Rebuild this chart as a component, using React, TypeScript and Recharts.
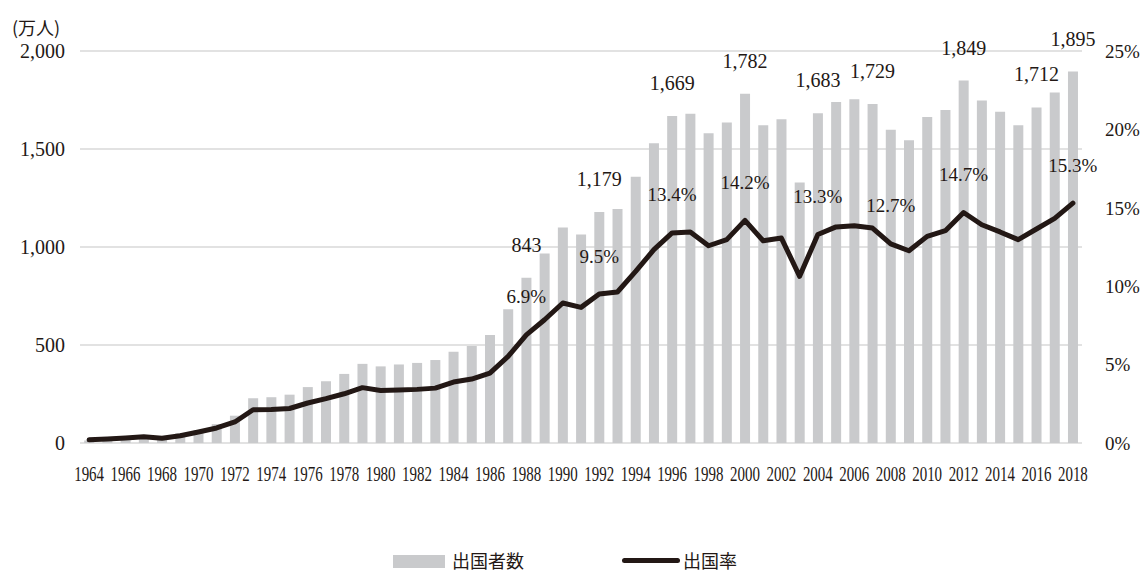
import React from 'react';
import { ComposedChart, Bar, Line, XAxis, YAxis, CartesianGrid, LabelList, Legend } from 'recharts';

const years = ['1964','1965','1966','1967','1968','1969','1970','1971','1972','1973','1974','1975','1976','1977','1978','1979','1980','1981','1982','1983','1984','1985','1986','1987','1988','1989','1990','1991','1992','1993','1994','1995','1996','1997','1998','1999','2000','2001','2002','2003','2004','2005','2006','2007','2008','2009','2010','2011','2012','2013','2014','2015','2016','2017','2018'];

// 出国者数 (万人)
const outbound = [12.8,15.9,21.2,26.8,34.4,49.3,66.3,96.1,139.2,228.9,233.6,246.6,285.3,315.1,352.5,403.8,390.9,400.7,408.6,423.3,465.9,494.8,551.6,682.9,843,966.3,1099.7,1063.4,1179,1193.4,1357.9,1529.8,1669,1680.3,1580.6,1635.8,1782,1621.6,1652.3,1329.6,1683,1740.4,1753.5,1729,1598.7,1544.6,1663.7,1699.4,1849,1747.3,1690.3,1621.4,1712,1788.9,1895];

// 出国率 (%)
const rate = [0.2,0.26,0.32,0.4,0.3,0.46,0.7,0.96,1.34,2.12,2.13,2.2,2.55,2.83,3.14,3.53,3.35,3.38,3.42,3.5,3.89,4.08,4.46,5.52,6.9,7.86,8.93,8.65,9.5,9.63,10.94,12.33,13.4,13.46,12.58,12.97,14.2,12.9,13.07,10.63,13.3,13.78,13.86,13.71,12.7,12.26,13.18,13.54,14.7,13.92,13.46,12.97,13.65,14.33,15.3];

const barLabelYears = ['1988','1992','1996','2000','2004','2007','2012','2016','2018'];
const rateLabelYears = ['1988','1992','1996','2000','2004','2008','2012','2018'];

const leftTicks = [0, 500, 1000, 1500, 2000];
const rightTicks = [0, 5, 10, 15, 20, 25];

const seriesNames = { outbound: '出国者数', rate: '出国率' };

const data = years.map((y, i) => ({ year: y, outbound: outbound[i], rate: rate[i] }));

const TEXT = '#231815';
const BAR = '#c9cacc';
const FONT = '"Liberation Serif", "Noto Sans CJK JP", serif';
const JFONT = '"Noto Sans CJK JP", "Liberation Serif", serif';

const XTick = (props: any) => {
  const { x, y, payload } = props;
  return (
    <g transform={`translate(${x},${y + 30})`}>
      <text transform="scale(0.68,1)" textAnchor="middle" dominantBaseline="central" fontSize={22} fontFamily={FONT} fill={TEXT}>
        {payload.value}
      </text>
    </g>
  );
};

const BarLabel = (props: any) => {
  const { x, y, width, value, index } = props;
  if (!barLabelYears.includes(years[index])) return null;
  return (
    <text x={x + width / 2} y={y - 33} textAnchor="middle" dominantBaseline="central" fontSize={20} fontFamily={FONT} fill={TEXT}>
      {Number(value).toLocaleString('en-US')}
    </text>
  );
};

const RateLabel = (props: any) => {
  const { x, y, value, index } = props;
  if (!rateLabelYears.includes(years[index])) return null;
  return (
    <text x={x} y={y - 38} textAnchor="middle" dominantBaseline="central" fontSize={19} fontFamily={FONT} fill={TEXT}>
      {`${Number(value).toFixed(1)}%`}
    </text>
  );
};

const UnitLabel = (props: any) => {
  const { viewBox } = props;
  return (
    <text x={viewBox.x + 36} y={viewBox.y - 24} textAnchor="middle" dominantBaseline="central" fontSize={18} fontFamily={JFONT} fill={TEXT}>
      (万人)
    </text>
  );
};

const LegendContent = () => (
  <div style={{ position: 'relative', width: 1140, height: 572, pointerEvents: 'none' }}>
    <div style={{ position: 'absolute', left: 393, top: 555, width: 52, height: 13, background: BAR }} />
    <div style={{ position: 'absolute', left: 452, top: 549, fontSize: 18, fontFamily: JFONT, color: TEXT, lineHeight: '22px', whiteSpace: 'nowrap' }}>{seriesNames.outbound}</div>
    <div style={{ position: 'absolute', left: 622, top: 558, width: 58, height: 5, borderRadius: 3, background: TEXT }} />
    <div style={{ position: 'absolute', left: 683, top: 549, fontSize: 18, fontFamily: JFONT, color: TEXT, lineHeight: '22px', whiteSpace: 'nowrap' }}>{seriesNames.rate}</div>
  </div>
);

export default function App() {
  return (
    <div style={{ position: 'absolute', left: 0, top: 0, width: 1140, height: 572, background: '#fff' }}>
      <ComposedChart width={1140} height={572} data={data} margin={{ top: 51, right: 0, bottom: 89, left: 0 }} barCategoryGap="23%">
        <CartesianGrid yAxisId="left" vertical={false} stroke="#d9d9d9" strokeWidth={1.5} />
        <XAxis dataKey="year" interval={1} height={40} tickLine={false} axisLine={false} tickSize={0} tickMargin={0} tick={<XTick />} />
        <YAxis yAxisId="left" orientation="left" width={80} domain={[0, 2000]} ticks={leftTicks} axisLine={false} tickLine={false} tickSize={0} tickMargin={15}
          tick={{ fill: TEXT, fontSize: 20, fontFamily: FONT }} tickFormatter={(v: number) => v.toLocaleString('en-US')}
          label={<UnitLabel />} />
        <YAxis yAxisId="right" orientation="right" width={58} domain={[0, 25]} ticks={rightTicks} axisLine={false} tickLine={false} tickSize={0} tickMargin={23}
          tick={{ fill: TEXT, fontSize: 19, fontFamily: FONT, textAnchor: 'start' }} tickFormatter={(v: number) => `${v}%`} />
        <Bar yAxisId="left" dataKey="outbound" name={seriesNames.outbound} fill={BAR} isAnimationActive={false}>
          <LabelList dataKey="outbound" content={<BarLabel />} />
        </Bar>
        <Line yAxisId="right" dataKey="rate" name={seriesNames.rate} type="linear" stroke={TEXT} strokeWidth={5} strokeLinejoin="round" strokeLinecap="round" dot={false} activeDot={false} isAnimationActive={false}>
          <LabelList dataKey="rate" content={<RateLabel />} />
        </Line>
        <Legend verticalAlign="middle" layout="horizontal" content={<LegendContent />} wrapperStyle={{ position: 'absolute', left: 0, top: 0, width: 1140, height: 572, pointerEvents: 'none' }} />
      </ComposedChart>
    </div>
  );
}
